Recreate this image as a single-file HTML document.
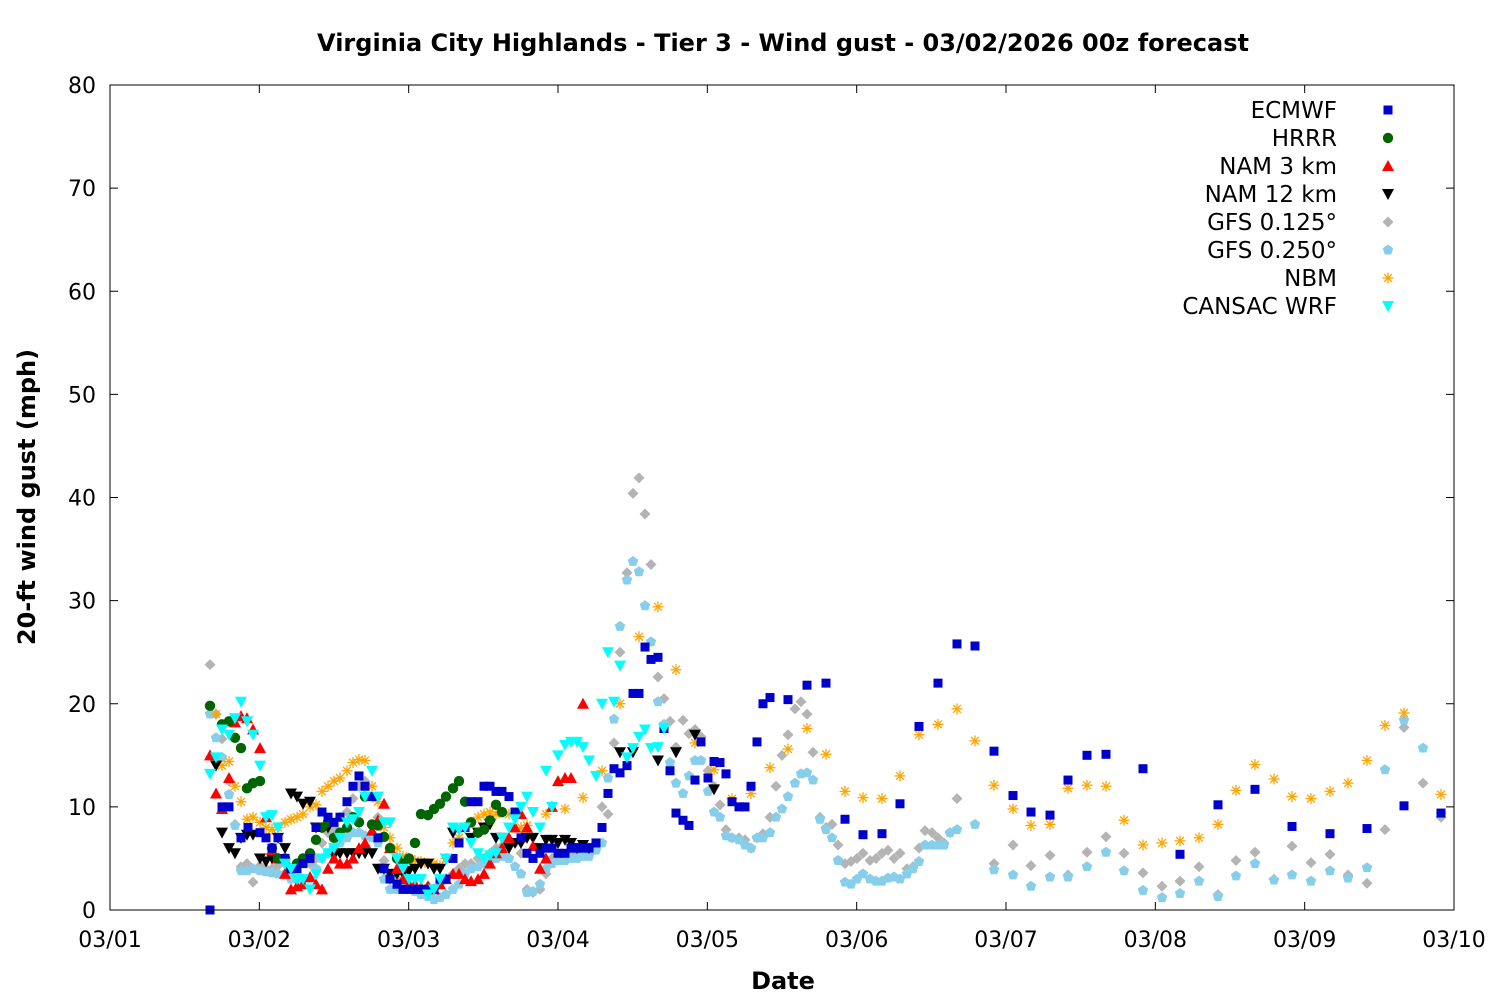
<!DOCTYPE html>
<html><head><meta charset="utf-8"><style>
html,body{margin:0;padding:0;background:#fff;}
svg{display:block;font-family:"DejaVu Sans","Liberation Sans",sans-serif;}
</style></head><body>
<svg id="s" width="1500" height="1000" xmlns="http://www.w3.org/2000/svg">
<rect width="1500" height="1000" fill="#fff"/>
<text x="783" y="51" text-anchor="middle" font-size="24" font-weight="bold">Virginia City Highlands - Tier 3 - Wind gust - 03/02/2026 00z forecast</text>
<text x="783" y="989" text-anchor="middle" font-size="24" font-weight="bold">Date</text>
<text transform="translate(35,497) rotate(-90)" text-anchor="middle" font-size="24" font-weight="bold">20-ft wind gust (mph)</text>
<g id="axes"></g>
<g id="pts"></g>
<rect x="110" y="85" width="1344" height="825" fill="none" stroke="#000" stroke-width="1"/>
</svg>
<script>
var NS="http://www.w3.org/2000/svg";
function el(t,a,p,txt){var e=document.createElementNS(NS,t);for(var k in a)e.setAttribute(k,a[k]);if(txt!=null)e.textContent=txt;p.appendChild(e);return e;}
var ax=document.getElementById('axes'),P=document.getElementById('pts');
function Y(v){return 910-v*825/80;}
for(var v=0;v<=80;v+=10){var y=Y(v);
 el('line',{x1:110,x2:118,y1:y,y2:y,stroke:'#000'},ax);el('line',{x1:1446,x2:1454,y1:y,y2:y,stroke:'#000'},ax);
 el('text',{x:96,y:y+8,'text-anchor':'end','font-size':22},ax,String(v));}
var days=['03/01','03/02','03/03','03/04','03/05','03/06','03/07','03/08','03/09','03/10'];
for(var i=0;i<10;i++){var x=110+i*1344/9;
 el('line',{x1:x,x2:x,y1:910,y2:902,stroke:'#000'},ax);el('line',{x1:x,x2:x,y1:85,y2:93,stroke:'#000'},ax);
 el('text',{x:x,y:947,'text-anchor':'middle','font-size':22},ax,days[i]);}
function mk(type,col,x,y){var s=4.5;
 if(type=='sq')el('rect',{x:x-s,y:y-s,width:2*s,height:2*s,fill:col},P);
 else if(type=='ci')el('circle',{cx:x,cy:y,r:5.2,fill:col},P);
 else if(type=='up')el('polygon',{points:(x)+','+(y-6)+' '+(x-6)+','+(y+5)+' '+(x+6)+','+(y+5),fill:col},P);
 else if(type=='dn')el('polygon',{points:(x)+','+(y+6)+' '+(x-6)+','+(y-5)+' '+(x+6)+','+(y-5),fill:col},P);
 else if(type=='di')el('polygon',{points:x+','+(y-5.5)+' '+(x+5.5)+','+y+' '+x+','+(y+5.5)+' '+(x-5.5)+','+y,fill:col},P);
 else if(type=='pe'){var p=[];for(var k=0;k<5;k++){var a=-Math.PI/2+k*2*Math.PI/5;p.push((x+5.5*Math.cos(a))+','+(y+5.5*Math.sin(a)));}el('polygon',{points:p.join(' '),fill:col},P);}
 else if(type=='as'){for(var k=0;k<4;k++){var a=k*Math.PI/4,dx=5.5*Math.cos(a),dy=5.5*Math.sin(a);el('line',{x1:x-dx,y1:y-dy,x2:x+dx,y2:y+dy,stroke:col,'stroke-width':1.3},P);}}
}
function S(type,col,arr){for(var i=0;i<arr.length;i+=2)mk(type,col,arr[i],Y(arr[i+1]));}
var gfs125=[210,23.8,216,19,222,16.6,229,12.5,235,8.3,241,4.2,247,4.5,253,2.7,260,4.3,266,4,272,4,278,4.3,285,4.5,291,4,297,4.5,303,4.8,310,4.5,316,5,322,6.5,328,7.5,334,8,340,9,347,9.5,353,10.8,359,12,365,12.5,372,11,378,9,384,4.8,390,3,397,3,403,2.5,409,2.3,415,2,421,2,428,2.3,434,2,440,2.5,446,3,453,3.5,459,4,465,4.5,471,4.5,478,5,484,5,490,5.5,496,6,502,6.2,509,6.5,515,6.5,521,5.5,527,2,533,1.7,540,2,546,3.5,552,5,558,5,565,5.3,571,5.3,577,5.5,583,5.5,589,5.8,596,6.2,602,10,608,9.3,614,16.2,620,25,627,32.7,633,40.4,639,41.9,645,38.4,651,33.5,658,22.6,664,20.5,670,18.3,676,15.8,683,18.4,689,17.1,695,17.5,701,16.8,708,13.5,714,12,720,10.2,726,7.8,732,7,739,7,745,6.8,751,6,757,7,763,7.4,770,9,776,12,782,15,788,17,795,19.5,801,20.2,807,19,813,15.3,820,9,826,8,832,8.3,838,6.3,845,4.5,851,4.7,857,5,863,5.5,870,4.8,876,5,882,5.5,888,5.8,894,5,900,5.5,907,4,913,4.2,919,6,925,7.7,932,7.5,938,7,944,6.5,950,7.5,957,10.8,994,4.5,1013,6.3,1031,4.3,1050,5.3,1068,3.4,1087,5.6,1106,7.1,1124,5.5,1143,3.6,1162,2.3,1180,2.8,1199,4.2,1218,1.5,1236,4.8,1255,5.6,1274,3,1292,6.2,1311,4.6,1330,5.4,1348,3.4,1367,2.6,1385,7.8,1404,17.7,1423,12.3,1441,9];
var gfs25=[210,19,216,16.7,222,14.8,229,11.2,235,8.2,241,3.8,247,3.8,253,4,260,3.8,266,3.7,272,3.6,278,3.5,285,3.5,291,3,297,3,303,3,310,3,316,4,322,5,328,5.5,334,6,340,6.5,347,7,353,7.5,359,7.5,365,7.2,372,7,378,6.5,384,3,390,2,397,2,403,2.5,409,2,415,1.8,421,1.5,428,1.3,434,1,440,1.2,446,1.5,453,2,459,2.5,465,3.5,471,4,478,4.2,484,4.5,490,4.8,496,5,502,5.2,509,5,515,4.2,521,3.5,527,1.7,533,1.8,540,2.5,546,4,552,4.5,558,4.8,565,4.8,571,5,577,5,583,5.2,589,5.2,596,5.8,602,6.5,608,12.8,614,18.5,620,27.5,627,32,633,33.8,639,32.8,645,29.5,651,26,658,20.2,664,18,670,14.3,676,12.3,683,11.3,689,13,695,14.5,701,14.5,708,11.5,714,9.5,720,9,726,7.2,732,7,739,6.8,745,6.3,751,6,757,7,763,7,770,7.5,776,9,782,9.8,788,11,795,12.3,801,13.2,807,13.3,813,12.6,820,8.8,826,7.8,832,7,838,4.8,845,2.7,851,2.5,857,3,863,3.5,870,3,876,2.8,882,2.8,888,3.1,894,3.2,900,3,907,3.5,913,4,919,4.7,925,6.3,932,6.3,938,6.3,944,6.3,950,7.5,957,7.8,975,8.3,994,3.9,1013,3.4,1031,2.3,1050,3.2,1068,3.2,1087,4.2,1106,5.6,1124,3.8,1143,1.9,1162,1.2,1180,1.6,1199,2.8,1218,1.3,1236,3.3,1255,4.5,1274,2.9,1292,3.4,1311,2.8,1330,3.8,1348,3.1,1367,4.1,1385,13.6,1404,18.4,1423,15.7,1441,9.3];
var nbm=[216,19,222,14,229,14.4,235,12,241,10.5,247,8.8,253,9,260,8.5,266,8,272,7.8,278,8,285,8.5,291,8.8,297,9,303,9.3,310,10,316,10.2,322,11.5,328,12,334,12.5,340,12.8,347,13.5,353,14.3,359,14.6,365,14.5,372,12,378,10.5,384,8,390,7,397,6,403,5.2,409,5,415,4.8,421,4.7,428,4.5,434,4.5,440,4.3,446,5,453,6.5,459,7,465,8,471,8.5,478,9,484,9.3,490,9.5,496,9.3,502,9.5,509,9.3,515,9.3,521,8,527,8.2,546,9.3,565,9.8,583,10.9,602,13.5,620,20,639,26.5,658,29.4,676,23.3,695,16.2,714,13.6,732,10.8,751,11.3,770,13.8,788,15.6,807,17.6,826,15.1,845,11.5,863,10.9,882,10.8,900,13,919,17,938,18,957,19.5,975,16.4,994,12.1,1013,9.8,1031,8.2,1050,8.3,1068,11.8,1087,12.1,1106,12,1124,8.7,1143,6.3,1162,6.5,1180,6.7,1199,7,1218,8.3,1236,11.6,1255,14.1,1274,12.7,1292,11,1311,10.8,1330,11.5,1348,12.3,1367,14.5,1385,17.9,1404,19.1,1441,11.2];
var nam12=[216,14,222,7.5,229,6,235,5.5,241,7,247,7.3,253,7.3,260,5,266,4.7,272,5,278,7,285,6,291,11.3,297,11,303,10.3,310,10.5,316,8,322,8,328,8,334,5.3,340,5.5,347,5.5,353,5.5,359,5.5,365,5.5,372,5.5,378,4,384,4,390,3.5,397,3.5,403,3.5,409,3.8,415,4,421,4.5,428,4.5,434,4,440,4,446,5,453,7.5,459,7.8,465,8,471,7,478,7.5,484,8,490,8.3,496,7,502,7,509,6,515,6.5,521,6.5,527,7,533,7,540,6,546,6.8,552,6.8,558,6.5,565,6.8,571,6.5,577,6,583,6.3,589,6,620,15.3,633,15.3,658,14.5,676,15.3,695,17,714,11.7];
var nam3=[210,15,216,11.3,222,9.8,229,12.8,235,18.2,241,18.8,247,18.6,253,17.5,260,15.7,266,9,272,5.8,278,5,285,3.5,291,2,297,2.3,303,2.5,310,3.2,316,2.5,322,2,328,4,334,5,340,4.5,347,4.5,353,5,359,6,365,6.5,372,7.7,378,8.7,384,10.3,390,6,397,4,403,3,409,2.5,415,2.5,421,2.2,428,2.3,434,2,440,2.5,446,3,453,3.5,459,3.5,465,3,471,2.8,478,3,484,3.5,490,4.5,496,5.5,502,6,509,7,515,8,521,9.3,527,8,533,6.2,540,4,546,5,552,10,558,12.5,565,12.8,571,12.8,583,20];
var hrrr=[210,19.8,222,18,229,18.3,235,16.7,241,15.7,247,11.8,253,12.3,260,12.5,272,6,278,5,285,5,291,4,297,4.5,303,5,310,5.5,316,6.8,322,8,328,8.5,334,7,340,7.5,347,8,353,9,359,8.5,365,11,372,8.3,378,8.2,384,7.1,390,6,397,5,403,4.5,409,5,415,6.5,421,9.3,428,9.2,434,9.8,440,10.3,446,11,453,11.8,459,12.5,465,10.5,471,8.5,478,7.5,484,7.8,490,8.7,496,10.2,502,9.5];
var ec=[210,0,222,10,229,10,241,7,248,8,260,7.5,266,7,272,6,278,7,285,5,291,4,297,4,303,4.5,310,5,316,8,322,9.5,328,9,334,8.5,340,9,347,10.5,353,12,359,13,365,12,372,11,378,7,384,4,390,3,397,2.5,403,2,409,2,415,2,421,2,428,2,434,2,440,3,446,3,453,5,459,6.5,465,8,471,10.5,478,10.5,484,12,490,12,496,11.5,502,11.5,509,11,515,9.5,521,7,527,5.5,533,5,540,5.5,546,6,552,6,558,5.5,565,5.5,571,6,577,6,583,6,589,6,596,6.5,602,8,608,11.3,614,13.7,620,13.3,627,14,633,21,639,21,645,25.5,651,24.3,658,24.5,664,17.6,670,13.5,676,9.4,683,8.7,689,8.2,695,12.6,701,16.3,708,12.8,714,14.4,720,14.3,726,13.2,732,10.5,739,10,745,10,751,12,757,16.3,763,20,770,20.6,788,20.4,807,21.8,826,22,845,8.8,863,7.3,882,7.4,900,10.3,919,17.8,938,22,957,25.8,975,25.6,994,15.4,1013,11.1,1031,9.5,1050,9.2,1068,12.6,1087,15,1106,15.1,1143,13.7,1180,5.4,1218,10.2,1255,11.7,1292,8.1,1330,7.4,1367,7.9,1404,10.1,1441,9.4];
var wrf=[210,13.2,216,14.8,222,17.5,229,17,235,18.6,241,20.2,247,18.3,253,17,260,14,266,9,272,9.2,278,8,285,4.5,291,4,297,3,303,3,310,2,316,3.5,322,5,328,5.5,334,6,340,7,347,8.5,353,8.8,359,9.5,365,11,372,13.5,378,11,384,8.5,390,8.5,397,5,403,4,409,3,415,3,421,3,428,1.5,434,2,440,3,446,5,453,8,459,7.8,465,8,471,6.5,478,5.5,484,5,490,5.3,496,5.5,502,7,509,8,515,8.8,521,10,527,11,533,9.5,540,8,546,13.5,552,10,558,15,565,16,571,16.3,577,16.3,583,15.8,589,14.5,596,13,602,20,608,25,614,20.2,620,23.7,627,14.8,633,15.7,639,16.8,645,17.5,651,15.7,658,15.8,664,17.6];
S('di','#b4b4b4',gfs125);S('pe','#87ceeb',gfs25);S('as','#ffa500',nbm);S('dn','#000',nam12);S('up','#ff0000',nam3);S('ci','#006400',hrrr);S('sq','#0000cd',ec);S('dn','#00ffff',wrf);
var leg=[['ECMWF','sq','#0000cd'],['HRRR','ci','#006400'],['NAM 3 km','up','#ff0000'],['NAM 12 km','dn','#000'],['GFS 0.125°','di','#b4b4b4'],['GFS 0.250°','pe','#87ceeb'],['NBM','as','#ffa500'],['CANSAC WRF','dn','#00ffff']];
for(var i=0;i<leg.length;i++){var y=110+i*28;el('text',{x:1337,y:y+8,'text-anchor':'end','font-size':23},P,leg[i][0]);mk(leg[i][1],leg[i][2],1388,y);}
</script>
</body></html>
